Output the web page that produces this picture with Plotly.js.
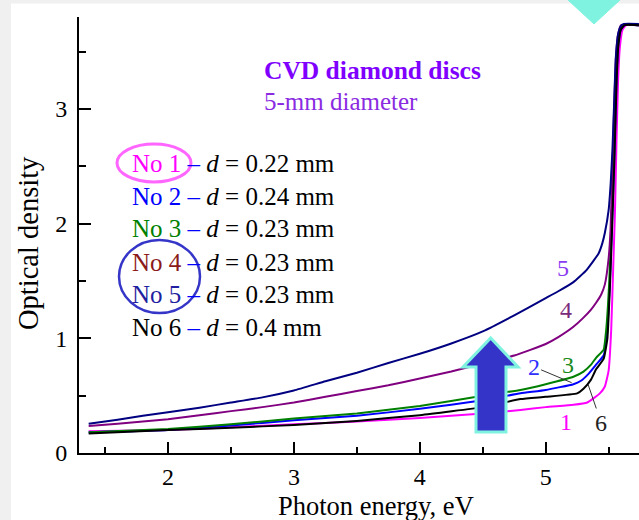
<!DOCTYPE html>
<html>
<head>
<meta charset="utf-8">
<script src="https://cdn.plot.ly/plotly-3.0.1.min.js"></script>
<style>
html,body{margin:0;padding:0;background:#ffffff;overflow:hidden;}
#chart{width:639px;height:520px;}
</style>
</head>
<body>
<div id="chart"></div>
<script>
// ---- Data (photon energy in eV, optical density) ----
const sampleNames = ['No 1', 'No 2', 'No 3', 'No 4', 'No 5', 'No 6'];
const thickness = ['0.22', '0.24', '0.23', '0.23', '0.23', '0.4'];
const curveLabels = ['1', '2', '3', '4', '5', '6'];

const e1 = [1.37, 2.0, 2.5, 3.0, 3.5, 4.0, 4.5, 4.8, 5.0, 5.22, 5.33, 5.43, 5.47, 5.50, 5.52, 5.537, 5.55, 5.562, 5.575, 5.59, 5.61, 5.64, 5.74];
const od1 = [0.19, 0.20, 0.225, 0.25, 0.275, 0.305, 0.345, 0.375, 0.40, 0.42, 0.44, 0.52, 0.58, 0.72, 1.07, 1.65, 2.1, 2.7, 3.25, 3.55, 3.69, 3.73, 3.73];

const e2 = [1.37, 2.0, 2.5, 3.0, 3.5, 4.0, 4.5, 4.8, 5.0, 5.22, 5.28, 5.34, 5.40, 5.46, 5.485, 5.51, 5.525, 5.545, 5.56, 5.575, 5.595, 5.625, 5.74];
const od2 = [0.18, 0.20, 0.24, 0.285, 0.325, 0.385, 0.46, 0.52, 0.55, 0.60, 0.63, 0.69, 0.77, 0.85, 1.02, 1.5, 1.95, 2.6, 3.2, 3.55, 3.69, 3.73, 3.73];

const e3 = [1.37, 2.0, 2.5, 3.0, 3.5, 4.0, 4.5, 4.8, 5.0, 5.22, 5.30, 5.36, 5.40, 5.46, 5.48, 5.505, 5.52, 5.54, 5.555, 5.57, 5.59, 5.62, 5.74];
const od3 = [0.18, 0.21, 0.25, 0.30, 0.345, 0.41, 0.50, 0.55, 0.60, 0.665, 0.71, 0.77, 0.83, 0.90, 1.07, 1.5, 1.94, 2.6, 3.2, 3.55, 3.69, 3.73, 3.73];

const e4 = [1.37, 1.6, 2.0, 2.25, 2.5, 2.75, 3.0, 3.25, 3.5, 3.75, 4.0, 4.25, 4.5, 4.75, 5.0, 5.1, 5.22, 5.30, 5.36, 5.40, 5.44, 5.47, 5.50, 5.515, 5.53, 5.545, 5.558, 5.575, 5.60, 5.74];
const od4 = [0.235, 0.255, 0.295, 0.33, 0.365, 0.40, 0.44, 0.49, 0.54, 0.59, 0.65, 0.71, 0.78, 0.85, 0.95, 1.01, 1.10, 1.18, 1.25, 1.31, 1.38, 1.47, 1.70, 1.95, 2.5, 3.05, 3.45, 3.65, 3.73, 3.73];

const e5 = [1.37, 1.6, 1.8, 2.0, 2.25, 2.5, 2.75, 3.0, 3.25, 3.5, 3.75, 4.0, 4.25, 4.5, 4.75, 5.0, 5.1, 5.22, 5.32, 5.42, 5.45, 5.47, 5.50, 5.516, 5.53, 5.545, 5.557, 5.575, 5.595, 5.62, 5.74];
const od5 = [0.255, 0.29, 0.325, 0.355, 0.395, 0.44, 0.485, 0.545, 0.625, 0.70, 0.785, 0.865, 0.955, 1.06, 1.20, 1.35, 1.41, 1.49, 1.59, 1.74, 1.83, 1.92, 2.12, 2.35, 2.64, 3.1, 3.45, 3.65, 3.72, 3.74, 3.74];

const e6 = [1.37, 2.0, 2.5, 3.0, 3.5, 4.0, 4.5, 4.8, 5.0, 5.25, 5.30, 5.36, 5.40, 5.46, 5.49, 5.51, 5.527, 5.547, 5.562, 5.577, 5.597, 5.627, 5.74];
const od6 = [0.17, 0.20, 0.22, 0.245, 0.28, 0.33, 0.40, 0.47, 0.49, 0.52, 0.56, 0.64, 0.73, 0.82, 1.0, 1.45, 1.95, 2.6, 3.2, 3.55, 3.69, 3.73, 3.73];

const xTicks = [2, 3, 4, 5];
const xMinor = [1.5, 2.5, 3.5, 4.5, 5.5];
const yTicks = [0, 1, 2, 3];
const yMinor = [0.5, 1.5, 2.5, 3.5];
const xTitle = 'Photon energy, eV';
const yTitle = 'Optical density';

// ---- Styles ----
const FONT = 'Liberation Serif, Times New Roman, serif';
const lineColors = ['#ff00ff', '#0000ff', '#008000', '#800080', '#000080', '#000000'];
const nameColors = ['#ff00ff', '#0000ff', '#008000', '#8b1a1a', '#1f1f9f', '#000000'];
const labelColors = ['#ff00ff', '#2f2fff', '#1a8a1a', '#7a2a7a', '#8a3cf0', '#222222'];

const xs = [e1, e2, e3, e4, e5, e6];
const ys = [od1, od2, od3, od4, od5, od6];

const traces = xs.map((x, i) => ({
  x: x, y: ys[i], type: 'scatter', mode: 'lines',
  name: sampleNames[i],
  line: {color: lineColors[i], width: 2, shape: 'spline', smoothing: 0.4},
  hoverinfo: 'skip'
}));

// pixel helpers for decorations (plot area: x 79..639, y 17..453)
const L = 79, R = 639, T = 17, B = 453;
const px = v => (v - L) / (R - L);
const py = v => (B - v) / (B - T);

const annotations = [];
// axis titles
annotations.push({xref: 'paper', yref: 'paper', x: px(375.5), y: py(506), xanchor: 'center', yanchor: 'middle',
  text: xTitle, showarrow: false, font: {family: FONT, size: 26.5, color: '#000'}});
annotations.push({xref: 'paper', yref: 'paper', x: px(28), y: py(243), xanchor: 'center', yanchor: 'middle',
  text: yTitle, textangle: -90, showarrow: false, font: {family: FONT, size: 28.5, color: '#000'}});
// title block
annotations.push({xref: 'paper', yref: 'paper', x: px(262), y: py(70), xanchor: 'left', yanchor: 'middle',
  text: '<b>CVD diamond discs</b>', showarrow: false, font: {family: FONT, size: 25.5, color: '#8000ff'}});
annotations.push({xref: 'paper', yref: 'paper', x: px(262), y: py(101.5), xanchor: 'left', yanchor: 'middle',
  text: '5-mm diameter', showarrow: false, font: {family: FONT, size: 25, color: '#8a2be2'}});
// sample list
const listY = [163, 196, 228, 262, 294, 327];
sampleNames.forEach((n, i) => {
  annotations.push({xref: 'paper', yref: 'paper', x: px(130), y: py(listY[i]), xanchor: 'left', yanchor: 'middle',
    showarrow: false, font: {family: FONT, size: 25, color: '#000'},
    text: '<span style="color:' + nameColors[i] + '">' + n + '</span> <span style="color:#0000ff">–</span> <i>d</i> = ' + thickness[i] + ' mm'});
});
// curve labels
const labPos = [[5.159, 0.273, 0, 0], [5.206, 0.613, -38, -16], [5.179, 0.767, 0, 0], [5.159, 1.247, 0, 0], [5.140, 1.610, 0, 0], [5.338, 0.593, 13, 38]];
curveLabels.forEach((t, i) => {
  const p = labPos[i];
  const withArrow = (p[2] !== 0 || p[3] !== 0);
  annotations.push({x: p[0], y: p[1], xref: 'x', yref: 'y', text: t,
    showarrow: withArrow, ax: p[2], ay: p[3], arrowhead: 0, arrowwidth: 1, arrowcolor: '#333', standoff: 0,
    font: {family: FONT, size: 24, color: labelColors[i]}});
});

const shapes = [
  // screenshot frame (light gray)
  {type: 'rect', xref: 'paper', yref: 'paper', x0: px(0), x1: px(11), y0: py(520), y1: py(0), fillcolor: '#f0f0f0', line: {width: 0}},
  {type: 'rect', xref: 'paper', yref: 'paper', x0: px(0), x1: px(639), y0: py(3.5), y1: py(0), fillcolor: '#f0f0f0', line: {width: 0}},
  // cyan triangle (tip of arrow from above)
  {type: 'path', xref: 'paper', yref: 'paper',
   path: 'M ' + px(568) + ' ' + py(0) + ' L ' + px(620) + ' ' + py(0) + ' L ' + px(594) + ' ' + py(24) + ' Z',
   fillcolor: '#80f3e0', line: {color: '#80f3e0', width: 1}},
  // ellipses
  {type: 'circle', xref: 'paper', yref: 'paper', x0: px(117), x1: px(191), y0: py(182), y1: py(144), line: {color: '#ff66ff', width: 3}},
  {type: 'circle', xref: 'paper', yref: 'paper', x0: px(119), x1: px(200), y0: py(313), y1: py(240), line: {color: '#3535c8', width: 2.5}},
  // big blue up arrow
  {type: 'path', xref: 'paper', yref: 'paper',
   path: 'M ' + px(490.7) + ' ' + py(338) + ' L ' + px(518) + ' ' + py(367) + ' L ' + px(506) + ' ' + py(367) +
         ' L ' + px(506) + ' ' + py(432) + ' L ' + px(476) + ' ' + py(432) + ' L ' + px(476) + ' ' + py(367) +
         ' L ' + px(463) + ' ' + py(367) + ' Z',
   fillcolor: '#3434c8', line: {color: '#80f3e0', width: 3}}
];

const layout = {
  width: 639, height: 520,
  margin: {l: L, r: 0, t: T, b: 520 - B, pad: 0},
  paper_bgcolor: '#ffffff', plot_bgcolor: '#ffffff',
  showlegend: false,
  font: {family: FONT, size: 24, color: '#000'},
  xaxis: {
    range: [1.2931, 5.741], showgrid: false, zeroline: false,
    showline: true, linecolor: '#000', linewidth: 2,
    ticks: 'inside', ticklen: 11, tickwidth: 2, tickcolor: '#000',
    tickvals: xTicks, ticktext: xTicks.map(String),
    minor: {tickvals: xMinor, ticks: 'inside', ticklen: 6, tickwidth: 2, tickcolor: '#000', showgrid: false},
    tickfont: {family: FONT, size: 24, color: '#000'},
    ticklabelstandoff: 1
  },
  yaxis: {
    range: [0, 3.801], showgrid: false, zeroline: false,
    showline: true, linecolor: '#000', linewidth: 2,
    ticks: 'inside', ticklen: 12, tickwidth: 2, tickcolor: '#000',
    tickvals: yTicks, ticktext: yTicks.map(String),
    minor: {tickvals: yMinor, ticks: 'inside', ticklen: 7, tickwidth: 2, tickcolor: '#000', showgrid: false},
    tickfont: {family: FONT, size: 24, color: '#000'},
    ticklabelstandoff: 5
  },
  annotations: annotations,
  shapes: shapes
};

Plotly.newPlot('chart', traces, layout, {displayModeBar: false, staticPlot: true});
</script>
</body>
</html>
